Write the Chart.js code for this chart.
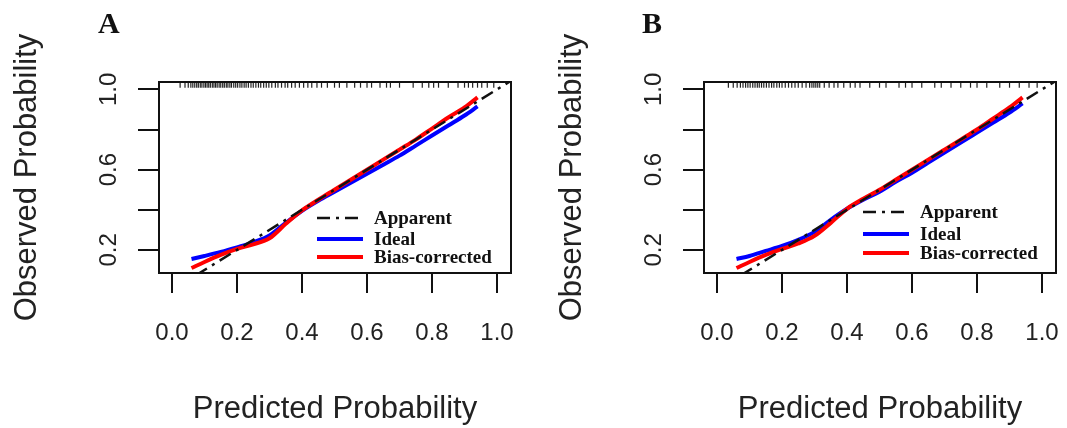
<!DOCTYPE html>
<html>
<head>
<meta charset="utf-8">
<script src="https://cdn.jsdelivr.net/npm/chart.js@4.4.1/dist/chart.umd.min.js"></script>
<style>
  html, body { margin: 0; padding: 0; background: #fff; }
  #wrap { position: relative; width: 1067px; height: 428px; overflow: hidden; }
  .panel { position: absolute; top: 0; width: 522px; height: 428px; }
  #panelA { left: 0; }
  #panelB { left: 545px; }
</style>
</head>
<body>
<div id="wrap">
  <div class="panel" id="panelA"><canvas id="chartA" width="522" height="428"></canvas></div>
  <div class="panel" id="panelB"><canvas id="chartB" width="522" height="428"></canvas></div>
</div>
<script>
// Calibration curves (panels A and B)

const X_TICKS = [0, 0.2, 0.4, 0.6, 0.8, 1.0];
const Y_TICKS = [0.2, 0.4, 0.6, 0.8, 1.0];
const Y_LABELS = [0.2, 0.6, 1.0];
const DIAGONAL = [0, 1.1];

const CURVE_X = [0.06, 0.10, 0.15, 0.20, 0.25, 0.30, 0.35, 0.40, 0.45, 0.50,
                 0.55, 0.60, 0.65, 0.70, 0.75, 0.80, 0.85, 0.90, 0.94];

const IDEAL_A = [0.155, 0.17, 0.19, 0.213, 0.238, 0.272, 0.335, 0.395, 0.445, 0.49,
                 0.535, 0.58, 0.625, 0.67, 0.72, 0.77, 0.82, 0.87, 0.915];
const BIAS_A  = [0.11, 0.14, 0.175, 0.205, 0.228, 0.258, 0.33, 0.397, 0.45, 0.50,
                 0.55, 0.60, 0.65, 0.70, 0.75, 0.805, 0.86, 0.91, 0.96];

const IDEAL_B = [0.155, 0.17, 0.195, 0.22, 0.25, 0.29, 0.35, 0.405, 0.45, 0.49,
                 0.54, 0.585, 0.635, 0.685, 0.735, 0.785, 0.835, 0.885, 0.93];
const BIAS_B  = [0.11, 0.14, 0.175, 0.205, 0.232, 0.27, 0.335, 0.405, 0.455, 0.50,
                 0.55, 0.60, 0.65, 0.70, 0.75, 0.80, 0.855, 0.91, 0.96];

// predicted values shown as rug along the top of each panel
const RUG_A = [0.025, 0.04, 0.05, 0.058, 0.064, 0.07, 0.076, 0.081, 0.087, 0.092, 0.098, 0.103,
               0.108, 0.113, 0.118, 0.124, 0.129, 0.134, 0.139, 0.145, 0.15, 0.156, 0.161, 0.167,
               0.172, 0.178, 0.183, 0.19, 0.196, 0.202, 0.209, 0.215, 0.222, 0.228, 0.235, 0.243,
               0.25, 0.258, 0.266, 0.273, 0.282, 0.29, 0.298, 0.307, 0.318, 0.326, 0.337, 0.348,
               0.356, 0.368, 0.379, 0.392, 0.405, 0.418, 0.43, 0.446, 0.46, 0.478, 0.5, 0.515,
               0.538, 0.562, 0.58, 0.6, 0.614, 0.64, 0.66, 0.672, 0.7, 0.742, 0.77, 0.79, 0.805,
               0.82, 0.85, 0.88, 0.9, 0.912, 0.925, 0.94, 0.953, 0.97, 0.99];
const RUG_B = [0.035, 0.05, 0.062, 0.072, 0.08, 0.088, 0.095, 0.102, 0.11, 0.117, 0.124, 0.13,
               0.137, 0.144, 0.152, 0.16, 0.168, 0.175, 0.184, 0.192, 0.2, 0.21, 0.22, 0.23,
               0.24, 0.25, 0.262, 0.274, 0.285, 0.292, 0.298, 0.304, 0.31, 0.316, 0.33, 0.345,
               0.36, 0.372, 0.39, 0.41, 0.425, 0.44, 0.47, 0.5, 0.52, 0.56, 0.58, 0.6, 0.63,
               0.67, 0.69, 0.72, 0.75, 0.78, 0.8, 0.83, 0.87, 0.9, 0.93, 0.96, 0.985];

const X_MIN = -0.04, X_MAX = 1.043;
const Y_MIN = 0.085, Y_MAX = 1.037;
const RUG_Y = 1.0235;

const SANS = '"Liberation Sans", Arial, sans-serif';
const SERIF = '"Liberation Serif", "Times New Roman", serif';

function pts(xs, ys) {
    return xs.map((x, i) => ({ x: x, y: ys[i] }));
}

// frame, panel letter and the inset legend
const decorPlugin = {
    id: 'decor',
    afterDraw(chart, args, opts) {
        const ctx = chart.ctx;
        const a = chart.chartArea;
        ctx.save();
        ctx.strokeStyle = '#111';
        ctx.lineWidth = 2;
        ctx.strokeRect(a.left, a.top, a.right - a.left, a.bottom - a.top);

        ctx.fillStyle = '#111';
        ctx.font = 'bold 30px ' + SERIF;
        ctx.textBaseline = 'alphabetic';
        ctx.textAlign = 'left';
        ctx.fillText(opts.letter, opts.letterX, 33);

        const lg = opts.legend;
        const order = [0, 2, 1];
        ctx.font = 'bold 19px ' + SERIF;
        ctx.textBaseline = 'middle';
        order.forEach((di, row) => {
            const ds = chart.data.datasets[di];
            const y = lg.rows[row];
            ctx.beginPath();
            ctx.setLineDash(ds.borderDash || []);
            ctx.strokeStyle = ds.borderColor;
            ctx.lineWidth = ds.borderWidth;
            ctx.moveTo(lg.x0, y);
            ctx.lineTo(lg.x1, y);
            ctx.stroke();
            ctx.setLineDash([]);
            ctx.fillStyle = '#111';
            ctx.fillText(ds.label, lg.textX, y + 1);
        });
        ctx.restore();
    }
};

function makeChart(canvasId, ideal, bias, rug, letter, letterX, legend) {
    const ctx = document.getElementById(canvasId).getContext('2d');
    return new Chart(ctx, {
        type: 'scatter',
        data: {
            datasets: [
                {
                    label: 'Apparent',
                    data: pts(DIAGONAL, DIAGONAL),
                    showLine: true,
                    borderColor: '#111',
                    borderWidth: 2.5,
                    borderDash: [13, 6, 3, 6],
                    pointRadius: 0,
                    order: 0
                },
                {
                    label: 'Bias-corrected',
                    data: pts(CURVE_X, bias),
                    showLine: true,
                    borderColor: '#ff0000',
                    borderWidth: 4,
                    cubicInterpolationMode: 'monotone',
                    pointRadius: 0,
                    order: 1
                },
                {
                    label: 'Ideal',
                    data: pts(CURVE_X, ideal),
                    showLine: true,
                    borderColor: '#0000ff',
                    borderWidth: 4,
                    cubicInterpolationMode: 'monotone',
                    pointRadius: 0,
                    order: 2
                },
                {
                    label: 'rug',
                    data: rug.map(v => ({ x: v, y: RUG_Y })),
                    showLine: false,
                    pointStyle: 'line',
                    rotation: 90,
                    radius: 3,
                    borderWidth: 1.2,
                    borderColor: '#222',
                    order: 3
                }
            ]
        },
        options: {
            responsive: false,
            animation: false,
            devicePixelRatio: 1,
            layout: { padding: { left: 0, right: 11, top: 82, bottom: 0 } },
            plugins: {
                legend: { display: false },
                tooltip: { enabled: false },
                decor: { letter: letter, letterX: letterX, legend: legend }
            },
            scales: {
                x: {
                    type: 'linear',
                    min: X_MIN,
                    max: X_MAX,
                    afterBuildTicks: s => { s.ticks = X_TICKS.map(v => ({ value: v })); },
                    afterFit: s => { s.height = 155; s.paddingLeft = 0; s.paddingRight = 0; },
                    grid: { display: true, drawOnChartArea: false, tickLength: 20, color: '#111', lineWidth: 2 },
                    border: { display: true, color: '#111', width: 2 },
                    ticks: {
                        padding: 26,
                        color: '#222',
                        font: { family: SANS, size: 24 },
                        callback: v => v.toFixed(1)
                    },
                    title: {
                        display: true,
                        text: 'Predicted Probability',
                        color: '#222',
                        font: { family: SANS, size: 31 },
                        padding: { top: 2, bottom: 0 }
                    }
                },
                y: {
                    type: 'linear',
                    min: Y_MIN,
                    max: Y_MAX,
                    afterBuildTicks: s => { s.ticks = Y_TICKS.map(v => ({ value: v })); },
                    afterFit: s => { s.width = 159; s.paddingTop = 0; s.paddingBottom = 0; },
                    grid: { display: true, drawOnChartArea: false, tickLength: 21, color: '#111', lineWidth: 2 },
                    border: { display: true, color: '#111', width: 2 },
                    ticks: {
                        padding: 12,
                        minRotation: 90,
                        maxRotation: 90,
                        crossAlign: 'center',
                        color: '#222',
                        font: { family: SANS, size: 24 },
                        callback: v => Y_LABELS.some(l => Math.abs(l - v) < 1e-6) ? v.toFixed(1) : ''
                    },
                    title: {
                        display: true,
                        text: 'Observed Probability',
                        color: '#222',
                        font: { family: SANS, size: 31 },
                        padding: { top: 9, bottom: 0 }
                    }
                }
            }
        },
        plugins: [decorPlugin]
    });
}

makeChart('chartA', IDEAL_A, BIAS_A, RUG_A, 'A', 98,
          { x0: 317, x1: 363, textX: 374, rows: [218, 239, 257] });
makeChart('chartB', IDEAL_B, BIAS_B, RUG_B, 'B', 97,
          { x0: 318, x1: 364, textX: 375, rows: [212, 234, 253] });
</script>
</body>
</html>
